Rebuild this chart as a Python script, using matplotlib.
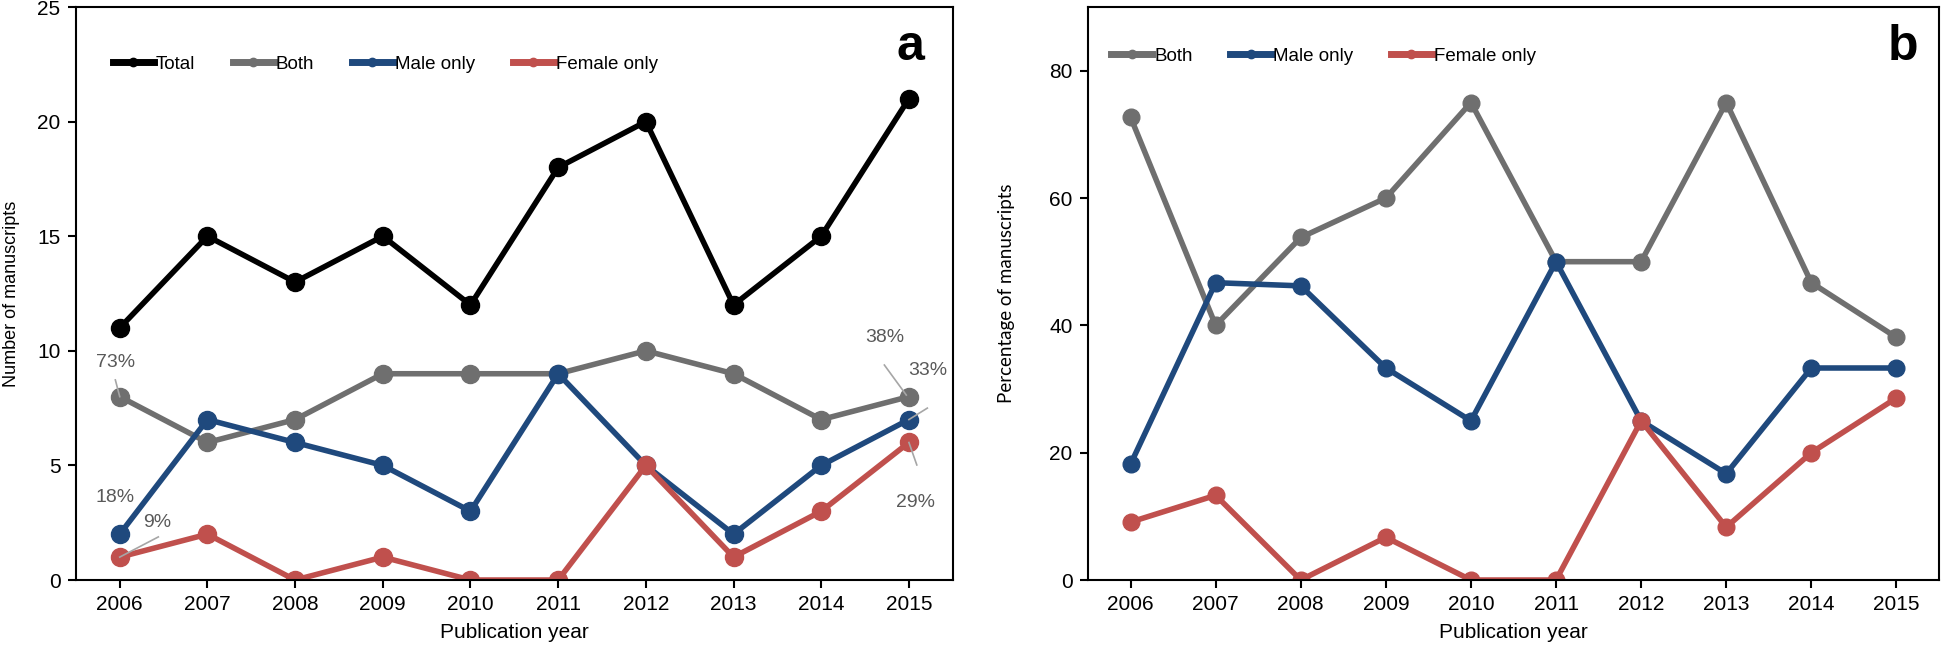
import matplotlib
matplotlib.use('Agg')
import matplotlib.pyplot as plt
from matplotlib.lines import Line2D

plt.rcParams['font.family'] = ['Liberation Sans', 'DejaVu Sans']

years = [2006, 2007, 2008, 2009, 2010, 2011, 2012, 2013, 2014, 2015]

# panel a: counts
total = [11, 15, 13, 15, 12, 18, 20, 12, 15, 21]
both = [8, 6, 7, 9, 9, 9, 10, 9, 7, 8]
male = [2, 7, 6, 5, 3, 9, 5, 2, 5, 7]
female = [1, 2, 0, 1, 0, 0, 5, 1, 3, 6]

# panel b: percentages
both_pct = [72.7, 40.0, 53.8, 60.0, 75.0, 50.0, 50.0, 75.0, 46.7, 38.1]
male_pct = [18.2, 46.7, 46.2, 33.3, 25.0, 50.0, 25.0, 16.7, 33.3, 33.3]
female_pct = [9.1, 13.3, 0.0, 6.7, 0.0, 0.0, 25.0, 8.3, 20.0, 28.6]

# percent labels on panel a: text, text pos, leader start, leader end
pct_labels = [
    ('73%', (2005.95, 9.47), (2005.95, 8.73), (2006.0, 8.0)),
    ('18%', (2005.95, 3.58), None, None),
    ('9%', (2006.43, 2.49), (2006.44, 1.88), (2006.0, 1.0)),
    ('38%', (2014.72, 10.56), (2014.72, 9.38), (2014.97, 8.07)),
    ('33%', (2015.21, 9.16), (2015.21, 7.5), (2015.0, 7.0)),
    ('29%', (2015.07, 3.36), (2015.09, 5.02), (2015.0, 6.0)),
]

c_total = '#000000'
c_both = '#6f6f6f'
c_male = '#1f497d'
c_female = '#c0504d'

fig = plt.figure(figsize=(19.46, 6.49), dpi=100)
ax1 = fig.add_axes([0.039, 0.1063, 0.4506, 0.8829])
ax2 = fig.add_axes([0.5591, 0.1063, 0.4373, 0.8829])

lw = 4


def style_axis(ax):
    for s in ax.spines.values():
        s.set_linewidth(1.5)
    ax.tick_params(direction='out', length=6, width=1.5, labelsize=15, pad=5)
    ax.set_xticks(years)
    ax.set_xlim(2005.5, 2015.5)
    ax.set_xlabel('Publication year', fontsize=15, va='top')
    ax.xaxis.set_label_coords(0.5, -0.075)


def legend_handles(items):
    return [Line2D([], [], color=c, lw=5, marker='o', markersize=6) for c in items]


# ---- panel a
series_a = [(total, c_total), (both, c_both), (male, c_male), (female, c_female)]
for vals, c in series_a:
    ax1.plot(years, vals, color=c, lw=lw, marker='o', markersize=13)
ax1.set_ylim(0, 25)
ax1.set_yticks([0, 5, 10, 15, 20, 25])
style_axis(ax1)
ax1.set_ylabel('Number of manuscripts', fontsize=13)
ax1.yaxis.set_label_coords(-0.064, 0.5)

for txt, tpos, l0, l1 in pct_labels:
    ax1.text(tpos[0], tpos[1], txt, fontsize=14, color='#595959', ha='center', va='center')
    if l0 is not None:
        ax1.plot([l0[0], l1[0]], [l0[1], l1[1]], color='#a6a6a6', lw=1.2, zorder=5)

ax1.legend(legend_handles([c_total, c_both, c_male, c_female]),
           ['Total', 'Both', 'Male only', 'Female only'],
           ncol=4, frameon=False, fontsize=13.5, loc='center left',
           bbox_to_anchor=(0.042, 0.9), borderaxespad=0, borderpad=0,
           handlelength=2.2, handletextpad=0.1, columnspacing=2.0)
ax1.text(0.952, 0.9075, 'a', transform=ax1.transAxes, fontsize=36,
         fontweight='bold', ha='center', va='baseline')

# ---- panel b
series_b = [(both_pct, c_both), (male_pct, c_male), (female_pct, c_female)]
for vals, c in series_b:
    ax2.plot(years, vals, color=c, lw=lw, marker='o', markersize=12)
ax2.set_ylim(0, 90)
ax2.set_yticks([0, 20, 40, 60, 80])
style_axis(ax2)
ax2.set_ylabel('Percentage of manuscripts', fontsize=13.5, family=['Lato', 'DejaVu Sans'])
ax2.yaxis.set_label_coords(-0.086, 0.5)

ax2.legend(legend_handles([c_both, c_male, c_female]),
           ['Both', 'Male only', 'Female only'],
           ncol=3, frameon=False, fontsize=13.5, loc='center left',
           bbox_to_anchor=(0.027, 0.914), borderaxespad=0, borderpad=0,
           handlelength=2.2, handletextpad=0.1, columnspacing=2.0)
ax2.text(0.958, 0.9075, 'b', transform=ax2.transAxes, fontsize=36,
         fontweight='bold', ha='center', va='baseline')

fig.savefig('out.png', dpi=100)
